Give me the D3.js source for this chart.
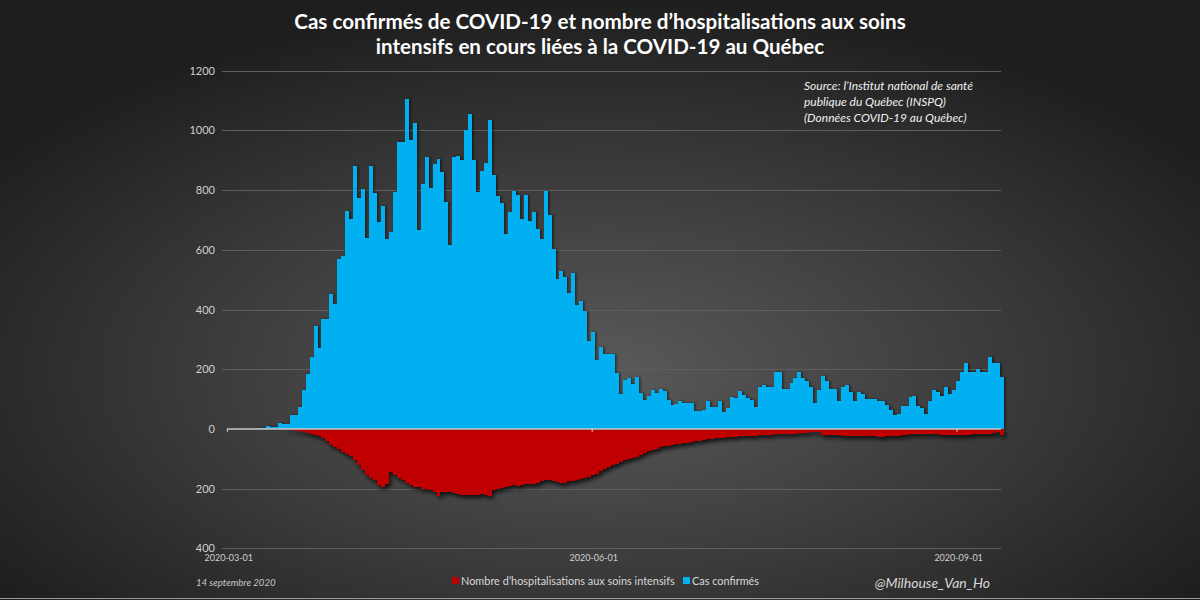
<!DOCTYPE html>
<html><head><meta charset="utf-8">
<script src="https://cdn.jsdelivr.net/npm/d3@7"></script>
<style>html,body{margin:0;padding:0;background:#222;}svg{display:block;}</style>
</head><body>
<svg id="chart" width="1200" height="600"></svg>
<script>
// ---- data ----
const firstDay = "2020-03-01";
const cases = [0,0,0,0,1,1,0,1,2,2,
10,5,5,20,17,17,45,45,75,130,
185,240,345,270,368,368,452,420,570,580,
730,702,880,775,805,638,880,790,694,748,
637,660,793,962,960,1104,969,1025,665,821,
910,807,887,905,860,760,615,910,915,902,
1002,1055,900,792,865,890,1035,849,780,756,
654,727,798,784,702,784,697,728,670,636,
798,715,602,503,530,510,456,521,416,427,
396,293,326,231,273,252,250,250,186,116,
165,171,152,173,120,96,111,131,120,135,
126,96,79,85,92,88,88,86,60,60,
62,95,74,73,95,58,70,107,105,127,
114,105,97,75,139,148,139,142,192,190,
133,133,153,172,189,170,159,142,88,131,
178,161,133,133,95,140,147,125,94,125,
116,101,101,101,94,95,80,64,46,49,
77,77,106,111,77,71,49,95,131,125,
111,142,117,131,159,189,220,189,192,200,
189,189,242,222,222,173];
const icu = [0,0,0,0,0,0,0,0,0,0,
0,0,0,1,2,3,5,7,8,10,
13,17,20,25,32,42,54,62,68,76,
84,92,104,120,138,155,163,172,189,194,
183,144,155,166,170,182,189,194,196,200,
203,205,210,224,212,213,211,216,219,220,
221,222,220,221,219,220,226,205,203,198,
194,192,189,190,187,186,185,183,180,176,
172,170,174,178,181,180,176,174,172,168,
164,161,155,150,140,134,128,122,116,110,
104,100,96,93,86,80,74,71,66,62,
58,56,54,52,50,48,46,44,42,40,
38,35,33,31,30,29,28,26,26,25,
25,24,24,23,22,21,20,19,18,18,
17,17,16,16,15,14,13,12,11,12,
20,21,21,22,22,23,24,24,24,23,
24,24,25,25,26,26,25,25,24,24,
22,20,18,17,17,17,17,18,17,18,
19,20,20,20,19,20,20,19,18,18,
17,17,16,14,12,22];
const yTicks = [-400,-200,0,200,400,600,800,1000,1200];
const xTickLabels = ["2020-03-01","2020-06-01","2020-09-01"];
const titleLines = ["Cas confirmés de COVID-19 et nombre d’hospitalisations aux soins",
                    "intensifs en cours liées à la COVID-19 au Québec"];
const sourceLines = ["Source: l’Institut national de santé","publique du Québec (INSPQ)","(Données COVID-19 au Québec)"];
const legendLabels = ["Nombre d’hospitalisations aux soins intensifs","Cas confirmés"];
const colors = {icu:"#C00000", cases:"#00B0F0"};

// ---- build ----
const parse = d3.utcParse("%Y-%m-%d");
const d0 = parse(firstDay);
const dates = cases.map((_, i) => d3.utcDay.offset(d0, i));
const dEnd = d3.utcDay.offset(d0, cases.length);

const svg = d3.select("#chart");
const W = 1200, H = 600;
const FONT = "Lato, 'Open Sans', sans-serif";
const defs = svg.append("defs");
const rg = defs.append("radialGradient").attr("id","bg")
  .attr("cx","50%").attr("cy","62%").attr("r","62%");
rg.append("stop").attr("offset","0%").attr("stop-color","#5a5a5a");
rg.append("stop").attr("offset","55%").attr("stop-color","#3a3a3a");
rg.append("stop").attr("offset","100%").attr("stop-color","#1e1e1e");
const sh = defs.append("filter").attr("id","shadow").attr("x","-5%").attr("y","-5%").attr("width","115%").attr("height","130%");
sh.append("feDropShadow").attr("dx",2).attr("dy",3).attr("stdDeviation",2).attr("flood-color","#000").attr("flood-opacity",0.75);
const sh2 = defs.append("filter").attr("id","shadowB").attr("x","-5%").attr("y","-5%").attr("width","115%").attr("height","130%");
sh2.append("feDropShadow").attr("dx",1.5).attr("dy",0).attr("stdDeviation",0.8).attr("flood-color","#000").attr("flood-opacity",0.55);

svg.append("rect").attr("width",W).attr("height",H).attr("fill","url(#bg)");

const x = d3.scaleUtc().domain([d0, dEnd]).range([226.3, 1003.7]);
const y = d3.scaleLinear().domain([-400, 1200]).range([548.3, 70.7]);
const bx = d => Math.round(x(d));
const bw = d => Math.round(x(d3.utcDay.offset(d,1))) - Math.round(x(d));

// gridlines
svg.append("g").selectAll("line").data(yTicks.filter(t => t !== 0)).join("line")
  .attr("x1", 222).attr("x2", 1001)
  .attr("y1", d => Math.round(y(d))+0.5).attr("y2", d => Math.round(y(d))+0.5)
  .attr("stroke", "#5e5e5e").attr("stroke-width", 1);

// y labels
const yAxis = d3.axisLeft(y).tickValues(yTicks).tickSize(0).tickFormat(d => String(Math.abs(d)));
const gy = svg.append("g").attr("transform","translate(218,0)").call(yAxis);
gy.select(".domain").remove();
gy.selectAll("text").attr("fill","#d0d0d0").style("font-family",FONT).style("font-size","11px");

// icu bars (negative)
svg.append("g").attr("filter","url(#shadow)").attr("shape-rendering","crispEdges")
  .selectAll("rect").data(icu).join("rect")
  .attr("x", (d,i) => bx(dates[i]))
  .attr("width", (d,i) => bw(dates[i]))
  .attr("y", y(0))
  .attr("height", d => y(-d) - y(0))
  .attr("fill", colors.icu);

// cases bars
svg.append("g").attr("filter","url(#shadowB)").attr("shape-rendering","crispEdges")
  .selectAll("rect").data(cases).join("rect")
  .attr("x", (d,i) => bx(dates[i]))
  .attr("width", (d,i) => bw(dates[i]))
  .attr("y", d => y(d))
  .attr("height", d => y(0) - y(d))
  .attr("fill", colors.cases);

// zero line + ticks
svg.append("line").attr("x1", 227).attr("x2", 1001).attr("y1", y(0)).attr("y2", y(0))
  .attr("stroke","#c8c8c8").attr("stroke-width",1.5);
const xTickDates = xTickLabels.map(parse);
svg.append("g").selectAll("line").data(xTickDates).join("line")
  .attr("x1", d => x(d)+1).attr("x2", d => x(d)+1).attr("y1", y(0)).attr("y2", y(0)+3)
  .attr("stroke","#d8d8d8").attr("stroke-width",1);

// x labels
const xAxis = d3.axisBottom(x).tickValues(xTickDates).tickSize(0).tickFormat(d3.utcFormat("%Y-%m-%d"));
const gx = svg.append("g").attr("transform", `translate(2,${552})`).call(xAxis);
gx.select(".domain").remove();
gx.selectAll("text").attr("fill","#d0d0d0").style("font-family",FONT).style("font-size","9px");

// title
svg.append("g").selectAll("text").data(titleLines).join("text")
  .attr("x", 600).attr("y", (d,i) => 29 + i*25)
  .attr("text-anchor","middle").attr("fill","#ffffff")
  .style("font-family",FONT).style("font-weight","700").style("font-size","20.6px")
  .text(d => d);

// source
svg.append("g").selectAll("text").data(sourceLines).join("text")
  .attr("x", 804).attr("y", (d,i) => 90 + i*16)
  .attr("fill","#f0f0f0").style("font-style","italic")
  .style("font-family",FONT).style("font-size","12px")
  .text(d => d);

// date footnote
svg.append("text").attr("x",196).attr("y",586).attr("fill","#c8c8c8")
  .style("font-style","italic").style("font-family",FONT).style("font-size","9.6px")
  .text("14 septembre 2020");

// legend
const lg = svg.append("g");
lg.append("rect").attr("x",452).attr("y",577).attr("width",7).attr("height",7).attr("fill",colors.icu);
lg.append("text").attr("x",461).attr("y",585).attr("fill","#d8d8d8")
  .style("font-family",FONT).style("font-size","10.9px").text(legendLabels[0]);
lg.append("rect").attr("x",683).attr("y",577).attr("width",7).attr("height",7).attr("fill",colors.cases);
lg.append("text").attr("x",692).attr("y",585).attr("fill","#d8d8d8")
  .style("font-family",FONT).style("font-size","10.9px").text(legendLabels[1]);

// handle
svg.append("text").attr("x",990).attr("y",588).attr("text-anchor","end").attr("fill","#d8d8d8")
  .style("font-style","italic").style("font-family",FONT).style("font-size","14px")
  .text("@Milhouse_Van_Ho");

// bottom border line
svg.append("line").attr("x1",0).attr("x2",W).attr("y1",598.5).attr("y2",598.5).attr("stroke","#9a9a9a").attr("stroke-width",1);
</script>
</body></html>
